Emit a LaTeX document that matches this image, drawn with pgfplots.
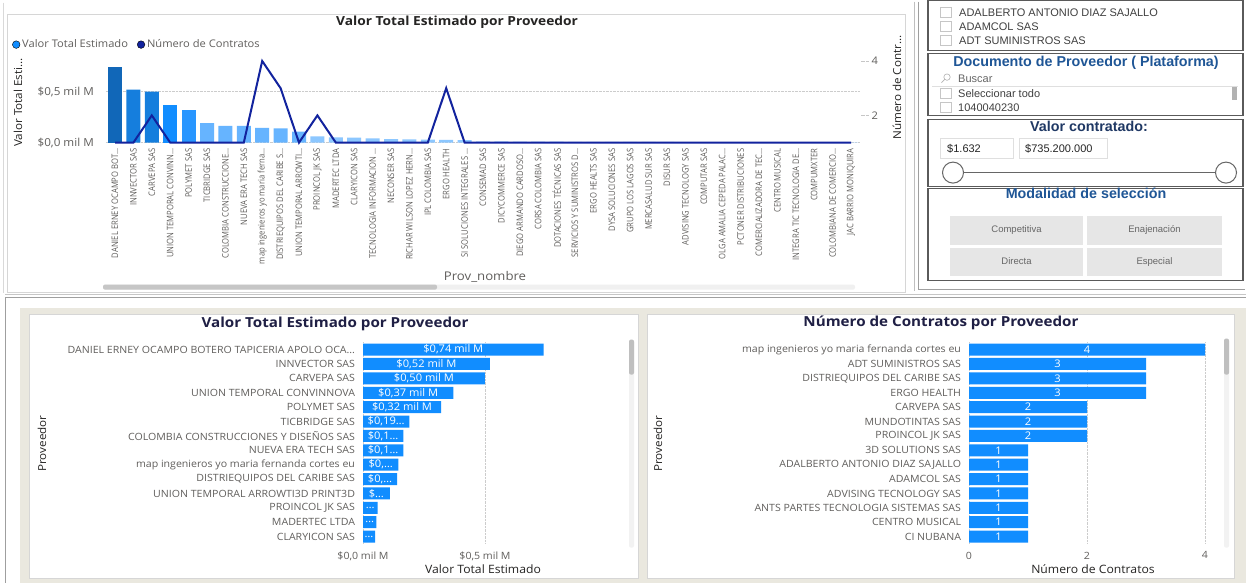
\documentclass[border=0pt]{standalone}
\usepackage{pgfplots}
\pgfplotsset{compat=1.18}
\pgfplotsset{/pgf/number format/assume math mode=true}
\usepackage{fontspec}
\setmainfont{Open Sans}
\newfontfamily\arialf{Liberation Sans}
\newfontfamily\narrowf[FakeStretch=0.85]{Open Sans}
\newfontfamily\widef[FakeStretch=1.06]{Open Sans}
\newfontfamily\wideff[FakeStretch=1.1]{Open Sans}
\newcommand\fs[1]{\fontsize{#1}{#1}\selectfont}
\definecolor{tickgray}{HTML}{605E5C}
\definecolor{titlecol}{HTML}{252423}
\definecolor{navytitle}{HTML}{1F1F44}
\definecolor{pbiblue}{HTML}{118DFF}
\definecolor{linenavy}{HTML}{12239E}
\definecolor{beige}{HTML}{EAE8DF}
\definecolor{cardborder}{HTML}{D6D6D6}
\definecolor{panelborder}{HTML}{5A5A5A}
\definecolor{cA}{RGB}{17,103,184}
\definecolor{cB}{RGB}{21,126,221}
\definecolor{cC}{RGB}{17,141,255}
\definecolor{cD}{RGB}{40,150,255}
\definecolor{cE}{RGB}{102,180,255}
\definecolor{cF}{RGB}{140,199,255}
\definecolor{cG}{RGB}{170,214,255}
\definecolor{slicerblue}{HTML}{1F5696}
\definecolor{slicernavy}{HTML}{1F3864}
\definecolor{btn}{HTML}{E6E6E6}
\begin{document}
\begin{tikzpicture}
\begin{scope}[x=1pt,y=-1pt]
\useasboundingbox (0,0) rectangle (1246,580);
% ---------- backgrounds ----------
\fill[white] (0,0) rectangle (1246,580);
\draw[gray!30, line width=0.8pt] (3,0) -- (3,290);
\draw[cardborder, line width=0.8pt, fill=white] (7,12) rectangle (905,289.5);
\fill[beige] (20,305) rectangle (1246,580);
\draw[gray!45, line width=0.8pt] (5,291.5) -- (1246,291.5);
\draw[gray!75, line width=1pt] (1246,294.5) -- (5,294.5) -- (5,580);
\draw[cardborder, line width=0.8pt, fill=white] (29,312) rectangle (638,576);
\draw[cardborder, line width=0.8pt, fill=white] (647,312) rectangle (1234,576);
% top scrollbar
\fill[gray!12, rounded corners=2pt] (103,282) rectangle (855,287);
\fill[gray!45, rounded corners=2pt] (103,282) rectangle (437,287);
% bottom scrollbars
\fill[gray!10, rounded corners=2pt] (629,337) rectangle (634,545);
\fill[gray!50, rounded corners=2pt] (629,337) rectangle (634,372);
\fill[gray!10, rounded corners=2pt] (1224,336) rectangle (1229,545);
\fill[gray!50, rounded corners=2pt] (1224,336) rectangle (1229,372);
\end{scope}

% ---------- top chart: bars ----------
\begin{axis}[
  at={(105.8pt,-58.4pt)}, anchor=north west,
  scale only axis, width=754.4pt, height=81.6pt,
  xmin=-0.5, xmax=40.5, ymin=0, ymax=0.8,
  axis line style={draw=none},
  major tick length=0pt,
  xtick={0,...,40},
  xticklabels={{DANIEL ERNEY OCAMPO BOT…},{INNVECTOR SAS},{CARVEPA SAS},{UNION TEMPORAL CONVINN…},{POLYMET SAS},{TICBRIDGE SAS},{COLOMBIA CONSTRUCCIONE…},{NUEVA ERA TECH SAS},{map ingenieros yo maria ferna…},{DISTRIEQUIPOS DEL CARIBE S…},{UNION TEMPORAL ARROWTI…},{PROINCOL JK SAS},{MADERTEC LTDA},{CLARYICON SAS},{TECNOLOGIA INFORMACION …},{NECONSER SAS},{RICHAR WILSON LOPEZ HERN…},{IPL COLOMBIA SAS},{ERGO HEALTH},{SI SOLUCIONES INTEGRALES …},{CONSEMAD SAS},{DICYCOMMERCE SAS},{DIEGO ARMANDO CARDOSO…},{CORSA COLOMBIA SAS},{DOTACIONES TÉCNICAS SAS},{SERVICIOS Y SUMINISTROS D…},{ERGO HEALTS SAS},{DYSA SOLUCIONES SAS},{GRUPO LOS LAGOS SAS},{MERCASALUD SUR SAS},{DISUR SAS},{ADVISING TECNOLOGY SAS},{COMPUTAR SAS},{OLGA AMALIA CEPEDA PALAC…},{PCTONER DISTRIBUCIONES},{COMERCIALIZADORA DE TEC…},{CENTRO MUSICAL},{INTEGRA TIC TECNOLOGIA DE…},{COMPUMXTER},{COLOMBIANA DE COMERCIO…},{JAC BARRIO MONIQUIRA}},
  x tick label style={rotate=90, anchor=east, font=\narrowf\fs{9}, text=tickgray, inner sep=0pt, outer sep=6pt},
  ytick={0,0.5},
  yticklabels={{\$0,0 mil M},{\$0,5 mil M}},
  y tick label style={font=\widef\fs{11}, text=tickgray, anchor=east, inner sep=0pt, outer sep=12pt},
  ymajorgrids, grid style={densely dotted, gray!40, line width=0.6pt},
  clip=false,
  legend style={at={(-0.1243,1.201)}, anchor=west, draw=none, fill=none, font=\widef\fs{10.5}, text=tickgray, inner sep=0pt, /tikz/every even column/.append style={column sep=7pt}},
  legend columns=-1,
  legend image code/.code={\fill[#1] (4pt,0pt) circle (3.8pt);},
]
\addplot[ybar, bar width=14pt, bar shift=0pt, fill=cA, draw=none, forget plot] coordinates {(0,0.74)};
\addplot[ybar, bar width=14pt, bar shift=0pt, fill=cB, draw=none, forget plot] coordinates {(1,0.52) (2,0.50)};
\addplot[ybar, bar width=14pt, bar shift=0pt, fill=cC, draw=none, forget plot] coordinates {(3,0.37)};
\addplot[ybar, bar width=14pt, bar shift=0pt, fill=cD, draw=none, forget plot] coordinates {(4,0.32)};
\addplot[ybar, bar width=14pt, bar shift=0pt, fill=cE, draw=none, forget plot] coordinates {(5,0.19) (6,0.165) (7,0.165) (8,0.145) (9,0.14) (10,0.108)};
\addplot[ybar, bar width=14pt, bar shift=0pt, fill=cF, draw=none, forget plot] coordinates {(11,0.062) (12,0.052) (13,0.05) (14,0.042) (15,0.034) (16,0.032) (17,0.03) (18,0.026) (19,0.024)};
\addplot[ybar, bar width=14pt, bar shift=0pt, fill=cG, draw=none, forget plot] coordinates {(20,0.012) (21,0.011) (22,0.010) (23,0.009) (24,0.009) (25,0.008) (26,0.008) (27,0.007) (28,0.007) (29,0.006) (30,0.006) (31,0.005) (32,0.005) (33,0.005) (34,0.004) (35,0.004) (36,0.003) (37,0.003) (38,0.003) (39,0.002) (40,0.002)};
\addlegendimage{fill=pbiblue}
\addlegendentry{Valor Total Estimado}
\addlegendimage{fill=linenavy}
\addlegendentry{Número de Contratos}
\end{axis}
% ---------- top chart: line on right axis ----------
\begin{axis}[
  at={(105.8pt,-58.4pt)}, anchor=north west,
  scale only axis, width=754.4pt, height=81.6pt,
  xmin=-0.5, xmax=40.5, ymin=1, ymax=4,
  axis x line=none, axis y line*=right,
  y axis line style={draw=none},
  ytick={2,4}, tick align=outside, major tick length=8pt,
  ytick style={draw=gray!45, densely dotted, line width=0.7pt},
  y tick label style={font=\widef\fs{10.5}, text=tickgray},
  clip=false,
]
\addplot[linenavy, line width=2pt, mark=none] coordinates {(0,1) (1,1) (2,2) (3,1) (4,1) (5,1) (6,1) (7,1) (8,4) (9,3) (10,1) (11,2) (12,1) (13,1) (14,1) (15,1) (16,1) (17,1) (18,3) (19,1) (20,1) (21,1) (22,1) (23,1) (24,1) (25,1) (26,1) (27,1) (28,1) (29,1) (30,1) (31,1) (32,1) (33,1) (34,1) (35,1) (36,1) (37,1) (38,1) (39,1) (40,1)};
\end{axis}

% ---------- bottom left: valor ----------
\begin{axis}[
  at={(363pt,-339.8pt)}, anchor=north west,
  scale only axis, width=239.1pt, height=201.4pt,
  xmin=0, xmax=0.98, ymin=-0.5, ymax=13.5, y dir=reverse,
  axis line style={draw=none}, major tick length=0pt,
  ytick={0,...,13},
  yticklabels={{DANIEL ERNEY OCAMPO BOTERO TAPICERIA APOLO OCA…},{INNVECTOR SAS},{CARVEPA SAS},{UNION TEMPORAL CONVINNOVA},{POLYMET SAS},{TICBRIDGE SAS},{COLOMBIA CONSTRUCCIONES Y DISEÑOS SAS},{NUEVA ERA TECH SAS},{map ingenieros yo maria fernanda cortes eu},{DISTRIEQUIPOS DEL CARIBE SAS},{UNION TEMPORAL ARROWTI3D PRINT3D},{PROINCOL JK SAS},{MADERTEC LTDA},{CLARYICON SAS}},
  y tick label style={font=\widef\fs{10}, text=tickgray, anchor=east, inner sep=0pt, outer sep=8pt},
  xtick={0,0.5},
  xticklabels={{\$0,0 mil M},{\$0,5 mil M}},
  x tick label style={font=\widef\fs{10}, text=tickgray, anchor=north, inner sep=0pt, outer sep=8pt},
  xmajorgrids, grid style={densely dotted, gray!40, line width=0.6pt},
  clip=false,
]
\addplot[xbar, bar width=12pt, bar shift=0pt, fill=pbiblue, draw=none,
  point meta=explicit symbolic, nodes near coords,
  visualization depends on={rawx \as \rawx},
  every node near coord/.append style={anchor=center, text=white, font=\widef\fs{10.5}, inner sep=0pt, shift={(axis direction cs:-0.5*\rawx,0)}}]
coordinates {(0.74,0) [\$0,74 mil M] (0.52,1) [\$0,52 mil M] (0.50,2) [\$0,50 mil M] (0.37,3) [\$0,37 mil M] (0.32,4) [\$0,32 mil M] (0.19,5) [\$0,19…] (0.165,6) [\$0,1…] (0.165,7) [\$0,1…] (0.145,8) [\$0,…] (0.14,9) [\$0,…] (0.11,10) [\$…] (0.06,11) […] (0.055,12) […] (0.05,13) […]};
\end{axis}

% ---------- bottom right: numero ----------
\begin{axis}[
  at={(969pt,-339.8pt)}, anchor=north west,
  scale only axis, width=247.8pt, height=201.4pt,
  xmin=0, xmax=4.2, ymin=-0.5, ymax=13.5, y dir=reverse,
  axis line style={draw=none}, major tick length=0pt,
  ytick={0,...,13},
  yticklabels={{map ingenieros yo maria fernanda cortes eu},{ADT SUMINISTROS SAS},{DISTRIEQUIPOS DEL CARIBE SAS},{ERGO HEALTH},{CARVEPA SAS},{MUNDOTINTAS SAS},{PROINCOL JK SAS},{3D SOLUTIONS SAS},{ADALBERTO ANTONIO DIAZ SAJALLO},{ADAMCOL SAS},{ADVISING TECNOLOGY SAS},{ANTS PARTES TECNOLOGIA SISTEMAS SAS},{CENTRO MUSICAL},{CI NUBANA}},
  y tick label style={font=\widef\fs{10}, text=tickgray, anchor=east, inner sep=0pt, outer sep=8pt},
  xtick={0,2,4},
  x tick label style={font=\widef\fs{10}, text=tickgray, anchor=north, inner sep=0pt, outer sep=8pt},
  xmajorgrids, grid style={densely dotted, gray!40, line width=0.6pt},
  clip=false,
]
\addplot[xbar, bar width=12pt, bar shift=0pt, fill=pbiblue, draw=none,
  point meta=x, nodes near coords,
  visualization depends on={rawx \as \rawx},
  every node near coord/.append style={anchor=center, text=white, font=\widef\fs{10.5}, inner sep=0pt, shift={(axis direction cs:-0.5*\rawx,0)}}]
coordinates {(4,0) (3,1) (3,2) (3,3) (2,4) (2,5) (2,6) (1,7) (1,8) (1,9) (1,10) (1,11) (1,12) (1,13)};
\end{axis}

\begin{scope}[x=1pt,y=-1pt]
\node[font=\wideff\bfseries\fs{12.5}, text=titlecol] at (457,20) {Valor Total Estimado por Proveedor};
\node[font=\widef\fs{11}, text=titlecol, rotate=90] at (18,100) {Valor Total Esti…};
\node[font=\widef\fs{11}, text=titlecol, rotate=90] at (897,85) {Número de Contr…};
\node[font=\wideff\fs{12}, text=tickgray] at (485,274) {Prov\_nombre};
\node[font=\wideff\bfseries\fs{13.8}, text=navytitle] at (335,321) {Valor Total Estimado por Proveedor};
\node[font=\widef\fs{11}, text=titlecol, rotate=90] at (42,441) {Proveedor};
\node[font=\widef\fs{11.5}, text=titlecol] at (483,567) {Valor Total Estimado};
\node[font=\wideff\bfseries\fs{13.8}, text=navytitle] at (941,320) {Número de Contratos por Proveedor};
\node[font=\widef\fs{11}, text=titlecol, rotate=90] at (658,441) {Proveedor};
\node[font=\widef\fs{11.5}, text=titlecol] at (1093,567) {Número de Contratos};

% ---------- right column: slicers ----------
\draw[gray!50, line width=0.8pt] (914,-1) -- (914,288);
\draw[gray!75, line width=1pt] (918,-1) -- (918,287) -- (1245,287);
\begin{scope}[panelborder, line width=1.2pt]
\draw[fill=white] (928,-2) rectangle (1243,48);
\draw[fill=white] (928,51) rectangle (1243,113);
\draw[fill=white] (928,117) rectangle (1243,184);
\draw[fill=white] (928,186) rectangle (1243,278);
\end{scope}
\begin{scope}[font=\arialf\fs{11}, text=black!75]
\foreach \yy/\tt in {10/ADALBERTO ANTONIO DIAZ SAJALLO, 24/ADAMCOL SAS, 38/ADT SUMINISTROS SAS}{
  \draw[gray!45, line width=0.6pt] (940,\yy-5) rectangle (951,\yy+5);
  \node[anchor=west, inner sep=0pt] at (959,\yy) {\tt};
}
\node[font=\arialf\bfseries\fs{14.3}, text=slicerblue] at (1086,60) {Documento de Proveedor ( Plataforma)};
\draw[gray!60, line width=0.6pt] (947,74.5) circle (3.2);
\draw[gray!60, line width=0.8pt] (944.7,76.8) -- (941.5,80);
\node[anchor=west, inner sep=0pt, text=black!60] at (958,76) {Buscar};
\draw[gray!25, line width=0.6pt] (932,83.5) -- (1238,83.5);
\draw[gray!45, line width=0.6pt] (940,86) rectangle (951,96);
\node[anchor=west, inner sep=0pt] at (958,91) {Seleccionar todo};
\draw[gray!45, line width=0.6pt] (940,100) rectangle (951,110);
\node[anchor=west, inner sep=0pt] at (958,105) {1040040230};
\fill[gray!60] (1231.5,84) rectangle (1236.5,97);
\node[font=\arialf\bfseries\fs{14.3}, text=slicernavy] at (1089,124) {Valor contratado:};
\draw[gray!25, line width=0.6pt] (940,136) rectangle (1013,156);
\draw[gray!25, line width=0.6pt] (1019,136) rectangle (1107,156);
\node[anchor=west, inner sep=0pt, text=black!85] at (947,146) {\$1.632};
\node[anchor=west, inner sep=0pt, text=black!85] at (1025,146) {\$735.200.000};
\draw[gray!80!black, line width=1pt] (963,170) -- (1216,170);
\draw[gray!80!black, line width=1pt, fill=white] (953,170) circle (10.5);
\draw[gray!80!black, line width=1pt, fill=white] (1226,170) circle (10.5);
\node[font=\arialf\bfseries\fs{14.3}, text=slicerblue] at (1086,191) {Modalidad de selección};
\fill[btn] (950,213) rectangle (1083,242);
\fill[btn] (1087,213) rectangle (1222,242);
\fill[btn] (950,245) rectangle (1083,273);
\fill[btn] (1087,245) rectangle (1222,273);
\node[font=\arialf\fs{9.5}, text=black!60] at (1016.5,227.5) {Competitiva};
\node[font=\arialf\fs{9.5}, text=black!60] at (1154.5,227.5) {Enajenación};
\node[font=\arialf\fs{9.5}, text=black!60] at (1016.5,259) {Directa};
\node[font=\arialf\fs{9.5}, text=black!60] at (1154.5,259) {Especial};
\end{scope}
\end{scope}
\end{tikzpicture}
\end{document}
